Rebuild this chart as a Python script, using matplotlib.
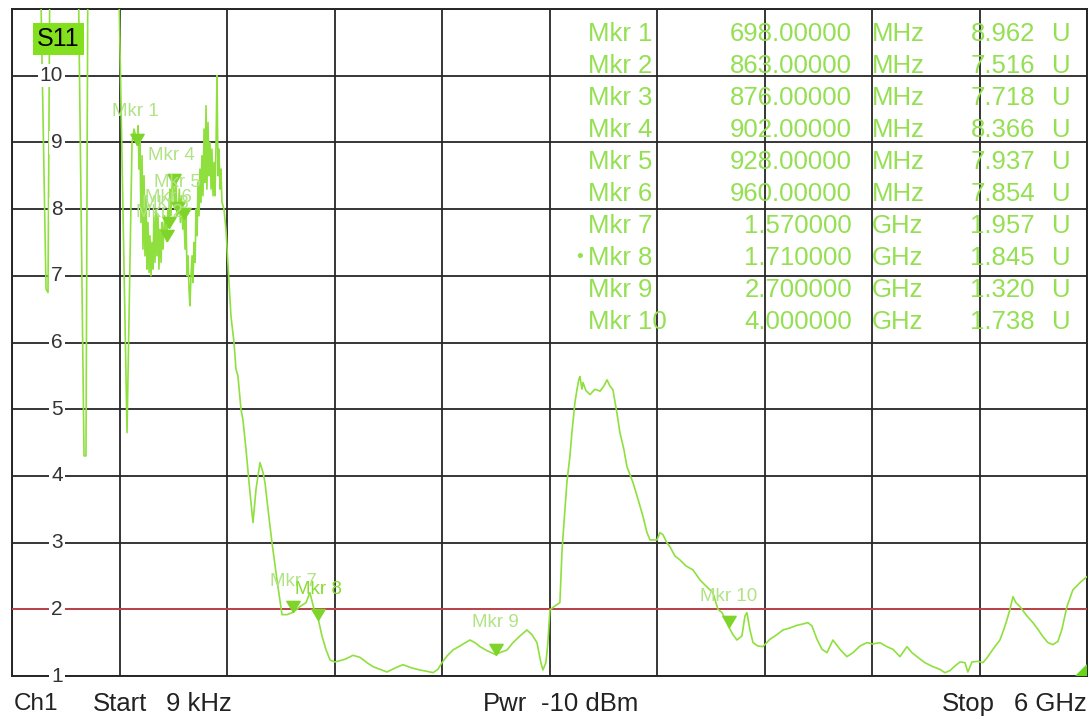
import matplotlib
matplotlib.use('Agg')
import matplotlib.pyplot as plt
from matplotlib.patches import Polygon

plt.rcParams['font.family'] = ['Liberation Sans', 'DejaVu Sans']

# trace: (frequency in MHz, S11 in U); 12 = above the top of the screen
trace = [(0, 12), (156, 12), (190, 6.8), (201, 6.75), (212, 12), (368, 12), (402, 4.3), (413, 4.3),
         (424, 12), (592, 12), (642, 4.65), (660, 7.5), (670, 9.0), (681, 9.2), (690, 9.1),
         (698, 8.962), (704, 9.25), (709, 8.6), (714, 9.1), (720, 7.8), (726, 8.8), (731, 7.4),
         (737, 8.5), (742, 7.3), (748, 8.2), (753, 7.1), (759, 7.8), (765, 7.05), (770, 7.6),
         (776, 7.0), (781, 7.5), (787, 7.1), (792, 7.9), (798, 7.2), (804, 8.0), (809, 7.3),
         (815, 7.9), (820, 7.1), (826, 7.7), (832, 7.2), (838, 7.8), (843, 7.4), (852, 7.9),
         (863, 7.516), (870, 8.0), (876, 7.718), (882, 8.3), (887, 7.9), (895, 8.5), (902, 8.366),
         (908, 8.0), (915, 8.4), (921, 7.9), (928, 7.937), (934, 8.3), (940, 7.8), (946, 8.2),
         (953, 7.7), (960, 7.854), (966, 7.4), (971, 7.9), (977, 7.0), (982, 7.3), (988, 6.8),
         (993, 6.55), (999, 7.0), (1005, 7.3), (1010, 6.9), (1016, 7.5), (1022, 7.2), (1027, 8.0),
         (1033, 7.6), (1038, 8.4), (1044, 7.9), (1049, 8.6), (1055, 8.1), (1060, 8.8), (1066, 8.2),
         (1072, 9.2), (1077, 8.4), (1083, 9.55), (1088, 8.3), (1094, 9.3), (1099, 8.5), (1105, 9.0),
         (1111, 8.3), (1116, 8.9), (1122, 8.2), (1128, 8.7), (1133, 8.2), (1139, 9.0), (1144, 10.0),
         (1150, 8.5), (1155, 8.9), (1161, 8.3), (1166, 8.6), (1172, 8.1), (1183, 8.0), (1194, 7.7),
         (1209, 7.0), (1222, 6.4), (1239, 6.0), (1250, 5.6), (1261, 5.5), (1278, 5.0), (1289, 4.84),
         (1306, 4.4), (1323, 3.9), (1345, 3.3), (1362, 3.8), (1384, 4.2), (1401, 4.05), (1412, 3.9),
         (1429, 3.5), (1451, 3.0), (1479, 2.44), (1507, 1.92), (1535, 1.92), (1570, 1.957),
         (1607, 2.04), (1641, 2.1), (1663, 2.25), (1686, 2.0), (1710, 1.845), (1730, 1.6),
         (1752, 1.4), (1775, 1.24), (1803, 1.21), (1858, 1.25), (1903, 1.31), (1942, 1.28),
         (1981, 1.2), (2015, 1.14), (2054, 1.1), (2093, 1.06), (2138, 1.12), (2182, 1.17),
         (2232, 1.12), (2277, 1.09), (2316, 1.07), (2350, 1.05), (2377, 1.1), (2400, 1.2),
         (2428, 1.3), (2461, 1.39), (2500, 1.45), (2556, 1.54), (2584, 1.5), (2612, 1.44),
         (2651, 1.38), (2700, 1.32), (2723, 1.35), (2763, 1.39), (2796, 1.5), (2835, 1.6),
         (2874, 1.69), (2902, 1.62), (2930, 1.5), (2952, 1.2), (2963, 1.09), (2980, 1.2),
         (2991, 1.5), (3002, 1.99), (3030, 2.05), (3058, 2.1), (3070, 2.89), (3086, 3.5),
         (3097, 3.9), (3114, 4.3), (3125, 4.65), (3142, 5.1), (3153, 5.29), (3164, 5.45),
         (3170, 5.49), (3181, 5.3), (3187, 5.4), (3203, 5.28), (3226, 5.22), (3254, 5.3),
         (3282, 5.27), (3304, 5.35), (3321, 5.44), (3337, 5.35), (3354, 5.29), (3376, 4.95),
         (3393, 4.65), (3415, 4.4), (3432, 4.14), (3466, 3.9), (3494, 3.65), (3522, 3.39),
         (3544, 3.15), (3561, 3.04), (3600, 3.04), (3616, 3.15), (3633, 3.12), (3655, 3.0),
         (3672, 2.94), (3700, 2.8), (3728, 2.74), (3762, 2.65), (3801, 2.59), (3840, 2.44),
         (3873, 2.35), (3912, 2.25), (3940, 2.0), (3963, 1.95), (4000, 1.738), (4024, 1.62),
         (4046, 1.54), (4074, 1.6), (4091, 1.9), (4102, 1.95), (4118, 1.7), (4136, 1.5),
         (4163, 1.45), (4191, 1.44), (4230, 1.55), (4269, 1.62), (4303, 1.69), (4342, 1.72),
         (4381, 1.76), (4415, 1.78), (4442, 1.8), (4465, 1.75), (4493, 1.55), (4521, 1.4),
         (4549, 1.35), (4582, 1.54), (4621, 1.4), (4660, 1.29), (4694, 1.35), (4733, 1.45),
         (4772, 1.5), (4805, 1.48), (4844, 1.5), (4883, 1.44), (4917, 1.4), (4956, 1.29),
         (4995, 1.44), (5023, 1.35), (5051, 1.29), (5095, 1.2), (5140, 1.14), (5179, 1.1),
         (5207, 1.05), (5235, 1.08), (5263, 1.15), (5291, 1.21), (5319, 1.2), (5335, 1.06),
         (5358, 1.21), (5391, 1.22), (5419, 1.2), (5441, 1.27), (5475, 1.4), (5514, 1.54),
         (5536, 1.7), (5553, 1.84), (5570, 2.0), (5587, 2.19), (5603, 2.1), (5626, 2.04),
         (5665, 1.9), (5698, 1.8), (5726, 1.7), (5754, 1.59), (5782, 1.5), (5810, 1.47),
         (5838, 1.52), (5860, 1.7), (5888, 2.04), (5921, 2.29), (5961, 2.4), (6000, 2.49)]
freq = [p[0] for p in trace]
s11 = [p[1] for p in trace]

# marker table
mkr_names = ['Mkr 1', 'Mkr 2', 'Mkr 3', 'Mkr 4', 'Mkr 5', 'Mkr 6', 'Mkr 7', 'Mkr 8', 'Mkr 9', 'Mkr 10']
mkr_freq = [698, 863, 876, 902, 928, 960, 1570, 1710, 2700, 4000]  # MHz
mkr_freq_txt = ['698.00000', '863.00000', '876.00000', '902.00000', '928.00000', '960.00000',
                '1.570000', '1.710000', '2.700000', '4.000000']
mkr_unit = ['MHz'] * 6 + ['GHz'] * 4
mkr_val = [8.962, 7.516, 7.718, 8.366, 7.937, 7.854, 1.957, 1.845, 1.320, 1.738]

y_ticks = [1, 2, 3, 4, 5, 6, 7, 8, 9, 10]
limit = 2

trace_col = '#8fe03e'
text_col = '#94e052'
label_col = '#b0e384'

W, H = 1089, 718
fig = plt.figure(figsize=(W / 100, H / 100), dpi=100)
ax = fig.add_axes([12 / W, (H - 676) / H, 1075 / W, 667 / H])
ax.set_xlim(0, 6000)
ax.set_ylim(1, 11)
ax.set_xticks(range(0, 6001, 600))
ax.set_yticks(range(1, 12))
ax.tick_params(length=0, labelbottom=False, labelleft=False)
ax.grid(True, color='#262626', lw=1.3)
for s in ax.spines.values():
    s.set_color('#262626')
    s.set_linewidth(1.4)

ax.axhline(limit, color='#d2484f', lw=1.2, zorder=3)
ax.plot(freq, s11, color=trace_col, lw=1.2, zorder=4)

# y labels sit on the grid lines with a white box
for v in y_ticks:
    ax.text((63 - 12) / 1075, v, str(v), transform=ax.get_yaxis_transform(), ha='right', va='center',
            fontsize=15, color='#333333', zorder=5,
            bbox=dict(facecolor='white', edgecolor='none', pad=1.5))

# marker triangles, tip on the trace
tri = [(0, 0), (-0.6, 1), (0.6, 1), (0, 0)]
ax.plot(mkr_freq, mkr_val, ls='none', marker=tri, ms=16, color='#7fd42a', zorder=6)

# labels above the markers (pixel offsets)
lab_off = [(-2, 33), (-7, 29), (-4, 24), (-2, 29), (-1, 31), (-16, 21), (0, 31), (0, 30), (0, 32), (0, 30)]
for i in range(len(mkr_names)):
    col = '#86dc30' if mkr_names[i] == 'Mkr 8' else label_col
    ax.annotate(mkr_names[i], (mkr_freq[i], mkr_val[i]), xytext=lab_off[i], textcoords='offset pixels',
                ha='center', va='center', fontsize=13.5, color=col, zorder=7)

# marker readout at the top right
for i in range(len(mkr_names)):
    y = 1 - (34 + i * 32) / H
    fig.text(588 / W, y, mkr_names[i], ha='left', va='center', fontsize=18.5, color=text_col)
    fig.text(852 / W, y, mkr_freq_txt[i], ha='right', va='center', fontsize=18.5, color=text_col)
    fig.text(872 / W, y, mkr_unit[i], ha='left', va='center', fontsize=18.5, color=text_col)
    fig.text(1035 / W, y, '%.3f' % mkr_val[i], ha='right', va='center', fontsize=18.5, color=text_col)
    fig.text(1052 / W, y, 'U', ha='left', va='center', fontsize=18.5, color=text_col)
fig.text(583 / W, 1 - (34 + 7 * 32) / H, '•', ha='right', va='center', fontsize=14, color=text_col)

# trace name
fig.text(37 / W, 1 - 39 / H, 'S11', ha='left', va='center', fontsize=18, color='black',
         bbox=dict(facecolor='#82e01e', edgecolor='none', pad=3))

# small green wedge at the bottom right corner
ax.add_patch(Polygon([(0.9885, 0.0), (1.0, 0.0), (1.0, 0.018)], closed=True, transform=ax.transAxes,
                     color='#66d61a', zorder=6))

# status line
fs = 18.5
yb = 1 - 704 / H
fig.text(14 / W, yb, 'Ch1', ha='left', va='center', fontsize=17.5, color='#222222')
fig.text(93 / W, yb, 'Start', ha='left', va='center', fontsize=fs, color='#222222')
fig.text(232 / W, yb, '9 kHz', ha='right', va='center', fontsize=fs, color='#222222')
fig.text(483 / W, yb, 'Pwr', ha='left', va='center', fontsize=fs, color='#222222')
fig.text(638 / W, yb, '-10 dBm', ha='right', va='center', fontsize=fs, color='#222222')
fig.text(942 / W, yb, 'Stop', ha='left', va='center', fontsize=fs, color='#222222')
fig.text(1087 / W, yb, '6 GHz', ha='right', va='center', fontsize=fs, color='#222222')

fig.savefig('out.png', dpi=100)
